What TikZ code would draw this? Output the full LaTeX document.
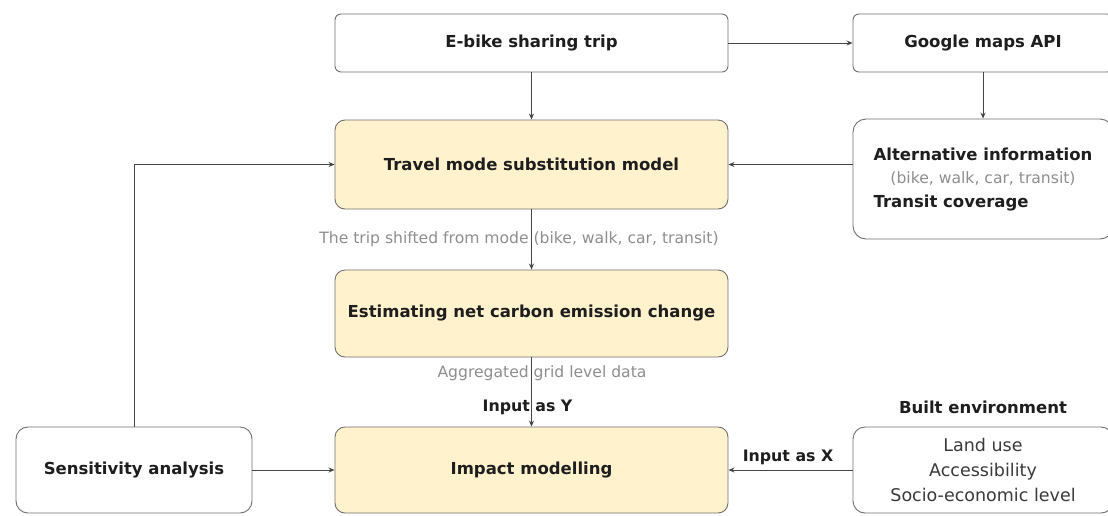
\documentclass[tikz,border=0pt]{standalone}
\usepackage{fontspec}
\setmainfont{DejaVu Sans}
\usetikzlibrary{arrows.meta}
\definecolor{boxfill}{HTML}{FFF2CC}
\definecolor{edgec}{HTML}{707070}
\definecolor{linec}{HTML}{454545}
\definecolor{lbl}{HTML}{8E8E8E}
\definecolor{ink}{HTML}{1E1E1E}
\definecolor{inkb}{HTML}{3A3A3A}
\tikzset{
  box/.style={draw=edgec, line width=0.9pt, inner sep=0pt, text=ink,
    font=\fontsize{16.5}{20}\selectfont\bfseries},
  ybox/.style={box, fill=boxfill},
  conn/.style={draw=linec, line width=0.9pt, -{Stealth[length=6pt,width=5pt]}},
  glabel/.style={text=lbl, inner sep=0pt, font=\fontsize{15.6}{19}\selectfont},
  blabel/.style={text=ink, inner sep=0pt, font=\fontsize{15.8}{19}\selectfont\bfseries},
}
\begin{document}
\begin{tikzpicture}[x=1pt,y=-1pt]
\useasboundingbox[fill=white] (0,0) rectangle (1108,515);

\node[box, rounded corners=6pt, minimum width=393pt, minimum height=58pt] (eb) at (531.5,43) {E-bike sharing trip};
\node[box, rounded corners=6pt, minimum width=260pt, minimum height=58pt] (gm) at (983,43) {Google maps API};
\node[ybox, rounded corners=10pt, minimum width=393pt, minimum height=89pt] (tm) at (531.5,164.5) {Travel mode substitution model};
\node[box, rounded corners=13pt, minimum width=260pt, minimum height=120pt,
  font=\fontsize{16.5}{23.5}\selectfont\bfseries] (alt) at (983,179)
  {\begin{tabular}{@{}l@{}}Alternative information\\
   \multicolumn{1}{@{}c@{}}{\fontsize{15.6}{23.5}\selectfont\mdseries\color{lbl}(bike, walk, car, transit)}\\
   Transit coverage\end{tabular}};
\node[ybox, rounded corners=10pt, minimum width=393pt, minimum height=87pt] (est) at (531.5,313.5) {Estimating net carbon emission change};
\node[ybox, rounded corners=10pt, minimum width=393pt, minimum height=86pt] (imp) at (531.5,470) {Impact modelling};
\node[box, rounded corners=12pt, minimum width=236pt, minimum height=86pt] (sens) at (134,470) {Sensitivity analysis};
\node[box, rounded corners=12pt, minimum width=260pt, minimum height=86pt, align=center,
  font=\fontsize{17.5}{25}\selectfont, text=inkb] (be) at (983,470) {Land use\\Accessibility\\Socio-economic level};

\node[blabel, font=\fontsize{16.5}{20}\selectfont\bfseries] (betitle) at (983,407) {Built environment};
\node[glabel] (lshift) at (519,239) {The trip shifted from mode (bike, walk, car, transit)};
\node[glabel] (lagg) at (542,373) {Aggregated grid level data};
\node[blabel] (linY) at (527.5,407) {Input as Y};
\node[blabel] (linX) at (788,457) {Input as X};

\draw[conn] (eb.east) -- (gm.west);
\draw[conn] (gm.south) -- (alt.north);
\draw[conn] (alt.west |- tm.east) -- (tm.east);
\draw[conn] (eb.south) -- (tm.north);
\draw[conn] (tm.south) -- (est.north);
\draw[conn] (est.south) -- (imp.north);
\draw[conn] (sens.north) -- (sens.north |- tm.west) -- (tm.west);
\draw[conn] (sens.east) -- (imp.west);
\draw[conn] (be.west) -- (imp.east);
\end{tikzpicture}
\end{document}
